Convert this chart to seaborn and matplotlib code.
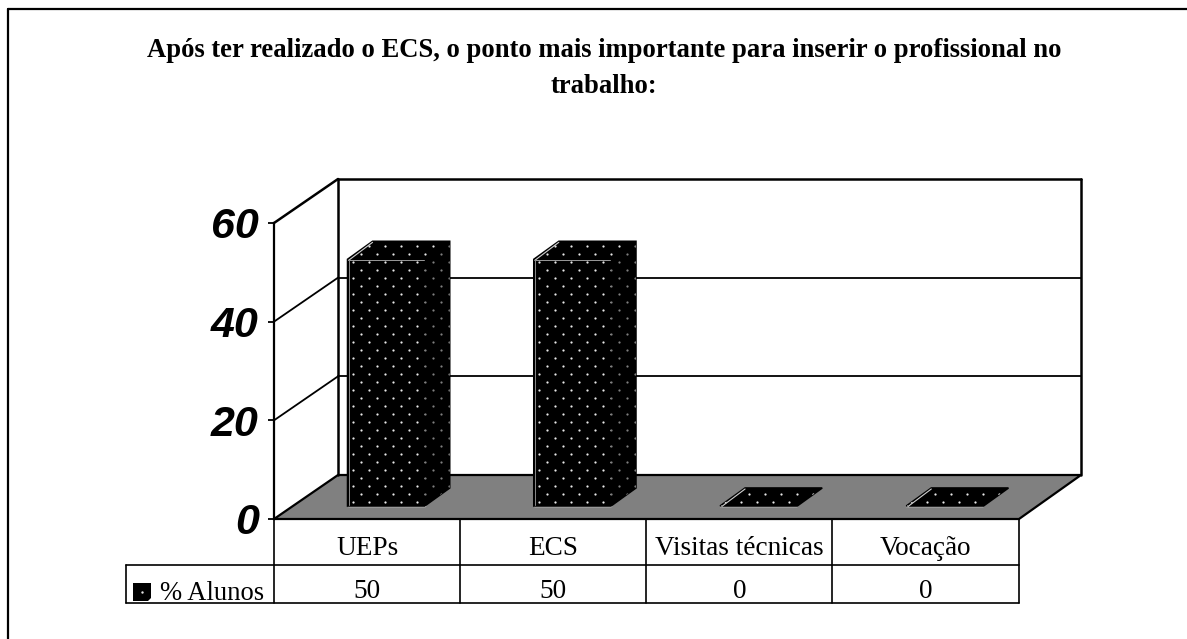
import numpy as np
import matplotlib
matplotlib.use("Agg")
import matplotlib.pyplot as plt
import seaborn as sns
from matplotlib.patches import Polygon
from matplotlib.lines import Line2D
from matplotlib.transforms import Affine2D, IdentityTransform, blended_transform_factory

categories = ["UEPs", "ECS", "Visitas técnicas", "Vocação"]
alunos = [50, 50, 0, 0]
y_ticks = [0, 20, 40, 60]
series_name = "% Alunos"
title = ("Após ter realizado o ECS, o ponto mais importante para inserir o profissional no\n"
         "trabalho:")

W, H = 1187, 639
WALL_DX, WALL_DY = 64, 44   # front plane to back wall, pixels
BAR_DX, BAR_DY = 19, 13     # front plane to bar front
DEPTH_DX, DEPTH_DY = 25, 18 # bar thickness

sns.set_theme(style="white")
plt.rcParams["font.family"] = ["Liberation Serif", "DejaVu Serif"]

fig = plt.figure(figsize=(W / 100, H / 100), dpi=100, facecolor="white")

# pixel canvas for the frame, floor and table
frame = fig.add_axes([0, 0, 1, 1], zorder=0)
frame.set_xlim(0, W)
frame.set_ylim(H, 0)
frame.axis("off")

# value axes sits on the front plane of the box
ax = fig.add_axes([274 / W, (H - 519) / H, 745 / W, 296 / H], zorder=1)
ax.patch.set_visible(False)
sns.barplot(x=categories, y=alunos, color="black", saturation=1, width=0.414, ax=ax)
bars = list(ax.patches)
ax.set_xlim(-0.5, 3.5)
ax.set_ylim(0, 60)
ax.set_yticks(y_ticks)

for s in ["top", "right", "bottom"]:
    ax.spines[s].set_visible(False)
ax.spines["left"].set_linewidth(1.6)
ax.spines["left"].set_color("black")
ax.tick_params(axis="y", left=True, length=4, width=1.3, pad=7, color="black")
ax.tick_params(axis="x", bottom=False, length=0, pad=12)
for lab in ax.get_yticklabels():
    lab.set_family("Liberation Sans")
    lab.set_fontweight("bold")
    lab.set_fontstyle("italic")
    lab.set_fontsize(31)
    lab.set_color("black")
for lab in ax.get_xticklabels():
    lab.set_fontsize(19.6)
    lab.set_color("black")

fig.canvas.draw()

# box: floor, back wall, side wall, gridlines
x0, y0 = ax.transData.transform((-0.5, 0))
x1, _ = ax.transData.transform((3.5, 0))
back_x0, back_x1 = x0 + WALL_DX, x1 + WALL_DX - 2
floor = [(x0, y0), (back_x0, y0 + WALL_DY), (back_x1, y0 + WALL_DY), (x1, y0)]
ax.add_patch(Polygon(floor, closed=True, transform=IdentityTransform(), facecolor="#808080",
                     edgecolor="black", linewidth=1.6, clip_on=False, zorder=0.5))

for t in y_ticks[1:]:
    lw = 1.8 if t == y_ticks[-1] else 1.3
    _, yt = ax.transData.transform((0, t))
    ax.plot([back_x0, back_x1], [yt + WALL_DY, yt + WALL_DY], transform=IdentityTransform(),
            color="black", lw=lw, clip_on=False, zorder=0.6)
    ax.plot([x0, back_x0], [yt, yt + WALL_DY], transform=IdentityTransform(),
            color="black", lw=lw, clip_on=False, zorder=0.6)
_, ytop = ax.transData.transform((0, y_ticks[-1]))
for xv in [back_x0, back_x1]:
    ax.plot([xv, xv], [y0 + WALL_DY, ytop + WALL_DY], transform=IdentityTransform(),
            color="black", lw=1.8, clip_on=False, zorder=0.6)

# bars: shift to the depth plane, add side and top faces and the dotted texture
shift = ax.transData + Affine2D().translate(BAR_DX, BAR_DY)
for bar in bars:
    bar.set_transform(shift)
    bar.set_clip_on(False)
    bar.set_zorder(2)
    bx0, by0 = shift.transform((bar.get_x(), 0))
    bx1, by1 = shift.transform((bar.get_x() + bar.get_width(), bar.get_height()))
    side = [(bx1, by0), (bx1 + DEPTH_DX, by0 + DEPTH_DY), (bx1 + DEPTH_DX, by1 + DEPTH_DY), (bx1, by1)]
    outline = [(bx0, by0), (bx0, by1), (bx0 + DEPTH_DX, by1 + DEPTH_DY),
               (bx1 + DEPTH_DX, by1 + DEPTH_DY), (bx1 + DEPTH_DX, by0 + DEPTH_DY), (bx1, by0)]
    clip = Polygon(outline, closed=True, transform=IdentityTransform(), facecolor="black",
                   edgecolor="black", linewidth=1.2, clip_on=False, zorder=2)
    ax.add_patch(clip)

    rows = np.arange(by0 + 4, by1 + DEPTH_DY, 8.0)
    xs, ys = [], []
    for i, ry in enumerate(rows):
        cols = np.arange(bx0 + (5 if i % 2 == 0 else 13), bx1 + DEPTH_DX, 16.0)
        xs.extend(cols)
        ys.extend([ry] * len(cols))
    dots = ax.scatter(xs, ys, s=2.6, color="#e8e8e8", linewidths=0,
                      transform=IdentityTransform(), zorder=3, clip_on=True)
    dots.set_clip_path(clip)
    # darker side face and the pale edges of the top
    ax.add_patch(Polygon(side, closed=True, transform=IdentityTransform(), facecolor="black",
                         alpha=0.45, edgecolor="none", clip_on=False, zorder=4))
    ax.plot([bx0 + 1, bx1 - 1], [by1 - 1, by1 - 1], transform=IdentityTransform(),
            color="#9a9a9a", lw=0.7, clip_on=False, zorder=4)
    ax.plot([bx0 + 1, bx0 + DEPTH_DX], [by1 - 1, by1 + DEPTH_DY - 1], transform=IdentityTransform(),
            color="#d0d0d0", lw=0.8, clip_on=False, zorder=4)
    ax.plot([bx0 + 1, bx0 + 1], [by0 + 1, by1 - 1], transform=IdentityTransform(),
            color="#8a8a8a", lw=0.7, clip_on=False, zorder=4)
ax.set_xlim(-0.5, 3.5)
ax.set_ylim(0, 60)

# data table under the box
tbl_x = [126, 274, 460, 646, 832, 1019]
frame.plot([274, 1019], [519, 519], color="black", lw=1.2)
frame.plot([126, 1019], [565, 565], color="black", lw=1.2)
frame.plot([126, 1019], [603, 603], color="black", lw=1.2)
frame.plot([126, 126], [565, 603], color="black", lw=1.2)
for xv in tbl_x[1:]:
    frame.plot([xv, xv], [519, 603], color="black", lw=1.2)

row_y = blended_transform_factory(ax.transData, frame.transData)
for i, v in enumerate(alunos):
    ax.text(i, 592, str(v), transform=row_y, ha="center", va="center", fontsize=19.6,
            color="black", clip_on=False)

frame.add_patch(Polygon([(133, 583), (151, 583), (151, 598), (148, 601), (133, 601)], closed=True,
                        facecolor="black", edgecolor="none"))
frame.scatter([141.5], [591.5], s=3, color="#e4e4e4", linewidths=0, zorder=3)
frame.text(160, 594, series_name, ha="left", va="center", fontsize=19.2, color="black")

fig.text(604 / W, 1 - 68.5 / H, title, ha="center", va="center", fontsize=19.2, fontweight="bold",
         color="black", linespacing=1.6)

# page border, only left and top are inside the crop
fig.add_artist(Line2D([8 / W, 8 / W], [0, 1 - 9 / H], color="black", lw=1.6))
fig.add_artist(Line2D([8 / W, 1], [1 - 9 / H, 1 - 9 / H], color="black", lw=1.6))

fig.savefig("out.png", dpi=100)
